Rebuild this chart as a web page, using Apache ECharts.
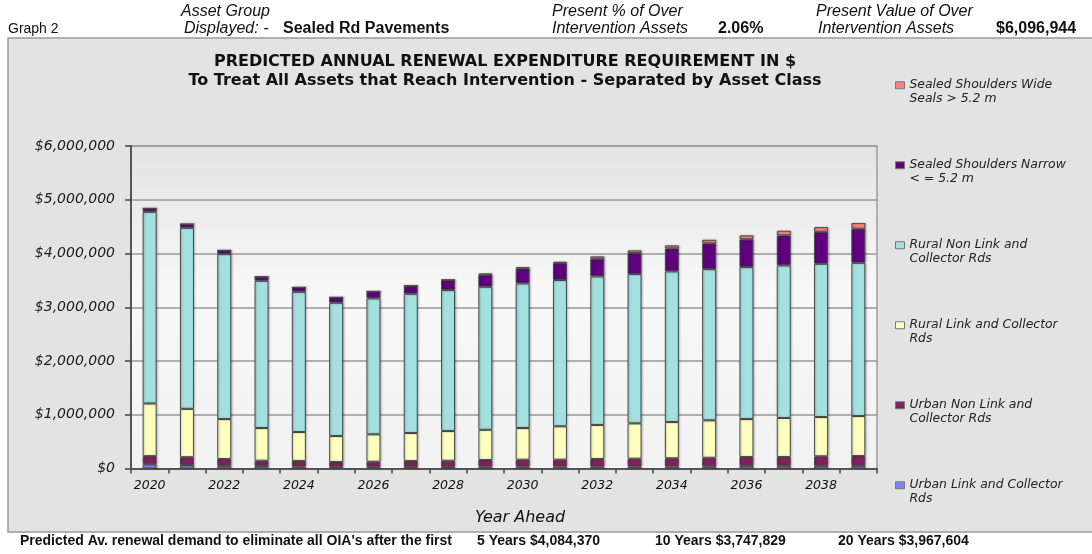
<!DOCTYPE html>
<html>
<head>
<meta charset="utf-8">
<script src="https://cdn.jsdelivr.net/npm/echarts@6/dist/echarts.min.js"></script>
<style>
html,body{margin:0;padding:0;background:#fff;}
#chart{width:1092px;height:554px;}
</style>
</head>
<body>
<div id="chart"></div>
<script>
// ---- data ----
const years = ['2020','2021','2022','2023','2024','2025','2026','2027','2028','2029',
               '2030','2031','2032','2033','2034','2035','2036','2037','2038','2039'];
const urbanLink    = [80000, 65000, 50000, 45000, 35000, 30000, 30000, 30000, 30000, 35000,
                      35000, 35000, 35000, 35000, 35000, 40000, 50000, 50000, 50000, 50000];
const urbanNonLink = [150000, 145000, 127000, 100000, 105000, 90000, 97000, 110000, 115000, 123000,
                      129000, 129000, 142000, 148000, 155000, 160000, 164000, 164000, 177000, 182000];
const ruralLink    = [980000, 900000, 743000, 608000, 539000, 484000, 509000, 520000, 552000, 562000,
                      589000, 621000, 633000, 657000, 675000, 696000, 706000, 726000, 731000, 744000];
const ruralNonLink = [3566000, 3368000, 3069000, 2740000, 2609000, 2480000, 2529000, 2591000, 2623000, 2661000,
                      2691000, 2721000, 2764000, 2777000, 2802000, 2814000, 2827000, 2839000, 2851000, 2851000];
const shouldersNarrow = [63000, 69000, 69000, 74000, 82000, 100000, 130000, 149000, 186000, 223000,
                         279000, 316000, 328000, 391000, 428000, 478000, 516000, 558000, 595000, 633000];
const shouldersWide   = [0, 0, 0, 0, 0, 0, 0, 0, 5000, 25000,
                         24000, 24000, 44000, 50000, 56000, 67000, 74000, 86000, 87000, 106000];

const seriesNames = ['Urban Link and Collector Rds', 'Urban Non Link and Collector Rds',
                     'Rural Link and Collector Rds', 'Rural Non Link and Collector Rds',
                     'Sealed Shoulders Narrow < = 5.2 m', 'Sealed Shoulders Wide Seals > 5.2 m'];
const legendLabels = ['Urban Link and Collector\nRds', 'Urban Non Link and\nCollector Rds',
                      'Rural Link and Collector\nRds', 'Rural Non Link and\nCollector Rds',
                      'Sealed Shoulders Narrow\n< = 5.2 m', 'Sealed Shoulders Wide\nSeals > 5.2 m'];
const seriesValues = [urbanLink, urbanNonLink, ruralLink, ruralNonLink, shouldersNarrow, shouldersWide];
const seriesColors = ['#8080ff', '#84205f', '#ffffc0', '#a3e0e0', '#5f007f', '#ff8080'];

const yMin = 0, yMax = 6000000, yStep = 1000000;

const titleLine1 = 'PREDICTED ANNUAL RENEWAL EXPENDITURE REQUIREMENT IN $';
const titleLine2 = 'To Treat All Assets that Reach Intervention - Separated by Asset Class';
const xAxisTitle = 'Year Ahead';

const headerItems = [
  ['Graph 2', 8, 29, 'normal', 'normal', 14],
  ['Asset Group', 181, 12, 'italic', 'normal', 16],
  ['Displayed: -', 184, 29, 'italic', 'normal', 16],
  ['Sealed Rd Pavements', 283, 29, 'normal', 'bold', 16],
  ['Present % of Over', 552, 12, 'italic', 'normal', 16],
  ['Intervention Assets', 552, 29, 'italic', 'normal', 16],
  ['2.06%', 718, 29, 'normal', 'bold', 16],
  ['Present Value of Over', 816, 12, 'italic', 'normal', 16],
  ['Intervention Assets', 818, 29, 'italic', 'normal', 16],
  ['$6,096,944', 996, 29, 'normal', 'bold', 16]
];
const footerItems = [
  ["Predicted Av. renewal demand to eliminate all OIA's after the first", 20],
  ['5 Years $4,084,370', 477],
  ['10 Years $3,747,829', 655],
  ['20 Years $3,967,604', 838]
];

// ---- chart ----
const chart = echarts.init(document.getElementById('chart'), null, {renderer: 'canvas'});
const FF = '"DejaVu Sans", sans-serif';
const HF = '"Liberation Sans", Arial, sans-serif';

const graphics = [
  {type: 'rect', z: -100, silent: true,
   shape: {x: 8, y: 38, width: 1100, height: 494},
   style: {fill: '#e3e3e3', stroke: '#9a9a9a', lineWidth: 1.5}}
];
headerItems.forEach(h => {
  graphics.push({type: 'text', z: 10, silent: true, x: h[1], y: h[2],
    style: {text: h[0], fill: '#111', fontFamily: HF, fontStyle: h[3], fontWeight: h[4], fontSize: h[5],
            align: 'left', verticalAlign: 'middle'}});
});
footerItems.forEach(f => {
  graphics.push({type: 'text', z: 10, silent: true, x: f[1], y: 541,
    style: {text: f[0], fill: '#111', fontFamily: HF, fontWeight: 'bold', fontSize: 14,
            align: 'left', verticalAlign: 'middle'}});
});

const series = seriesValues.map((vals, i) => ({
  name: seriesNames[i],
  type: 'bar',
  stack: 'total',
  barWidth: 14,
  data: vals,
  itemStyle: {color: seriesColors[i], borderColor: '#4a4a4a', borderWidth: 1,
              shadowColor: 'rgba(0,0,0,0.25)', shadowBlur: 2, shadowOffsetX: 1, shadowOffsetY: 0},
  emphasis: {disabled: true}
}));

const option = {
  backgroundColor: '#ffffff',
  animation: false,
  title: {
    text: titleLine1 + '\n' + titleLine2,
    left: 505, top: 52, textAlign: 'center', padding: 0,
    textStyle: {fontFamily: FF, fontWeight: 'bold', fontSize: 16, lineHeight: 19, color: '#111'}
  },
  legend: {
    orient: 'vertical',
    left: 895, top: 65.3, padding: 0,
    itemWidth: 9, itemHeight: 7, itemGap: 40.1,
    icon: 'rect',
    data: seriesNames.slice().reverse(),
    // a leading empty line puts the first text line level with the marker
    formatter: name => '\n' + legendLabels[seriesNames.indexOf(name)],
    itemStyle: {borderColor: '#777', borderWidth: 1, shadowBlur: 0},
    textStyle: {fontFamily: FF, fontStyle: 'italic', fontSize: 12.4, lineHeight: 13.3, color: '#222'},
    selectedMode: false
  },
  grid: {
    left: 131, right: 215, top: 146, bottom: 85.5,
    show: true,
    borderColor: '#8a8a8a', borderWidth: 1.2,
    backgroundColor: {type: 'linear', x: 0, y: 0, x2: 0, y2: 1,
      colorStops: [{offset: 0, color: '#e3e3e3'}, {offset: 0.45, color: '#f8f8f8'}, {offset: 1, color: '#f2f2f2'}]}
  },
  xAxis: {
    type: 'category',
    data: years,
    name: xAxisTitle,
    nameLocation: 'middle',
    nameGap: 41,
    nameTextStyle: {fontFamily: FF, fontStyle: 'italic', fontSize: 16, color: '#111', padding: [0, 0, 0, 32]},
    axisLine: {lineStyle: {color: '#555', width: 2}},
    axisTick: {show: true, length: 5, alignWithLabel: false, interval: 0, lineStyle: {color: '#444', width: 1.5}},
    axisLabel: {interval: 1, fontFamily: FF, fontStyle: 'italic', fontSize: 12.5, color: '#111', margin: 11},
    splitLine: {show: false}
  },
  yAxis: {
    type: 'value',
    min: yMin, max: yMax, interval: yStep,
    axisLine: {show: true, lineStyle: {color: '#555', width: 2}},
    axisTick: {show: true, length: 6, lineStyle: {color: '#444', width: 1.5}},
    axisLabel: {fontFamily: FF, fontStyle: 'italic', fontSize: 14, color: '#1a1a1a', margin: 16,
                formatter: v => '$' + v.toLocaleString('en-US')},
    splitLine: {show: true, lineStyle: {color: '#999', width: 1.5}}
  },
  graphic: graphics,
  series: series
};
chart.setOption(option);
</script>
</body>
</html>
